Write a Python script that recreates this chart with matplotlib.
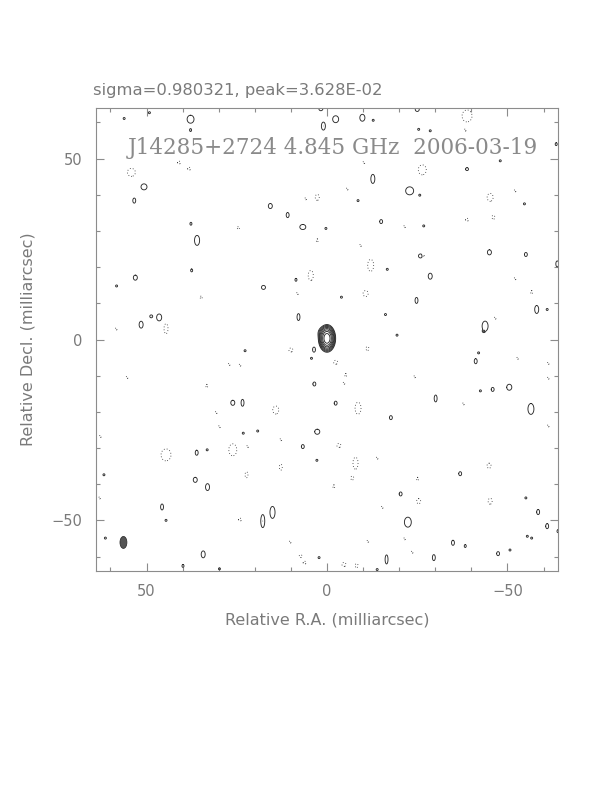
'''
Difmap-style clean map of J14285+2724 at 4.845 GHz (2006-03-19):
contour levels of the source plus the noise blobs, beam in the corner.
'''
import numpy as np
import matplotlib
matplotlib.use('Agg')
import matplotlib.pyplot as plt
from matplotlib.ticker import MultipleLocator
from matplotlib.patches import Ellipse

# --- input ---
title_txt = 'sigma=0.980321, peak=3.628E-02'
map_label = 'J14285+2724 4.845 GHz  2006-03-19'
xlabel_txt = 'Relative R.A. (milliarcsec)'
ylabel_txt = 'Relative Decl. (milliarcsec)'

field_half = 64.0  # mas

# central source components: ra, dec, sigma_ra, sigma_dec, amplitude (in lowest levels)
core_ra = [0.0, 1.0]
core_dec = [0.3, 1.8]
core_sx = [0.72, 0.75]
core_sy = [1.15, 0.8]
core_amp = [250.0, 5.0]

# contour levels (multiples of the lowest contour)
pos_levels = [1, 2, 4, 8, 16, 32, 64, 128]
neg_levels = [-1]

# positive noise islands: ra, dec (mas), full width / height of lowest contour (mas)
pos_ra = [56.2, 49.2, 37.8, 37.8, 1.0, -2.4, 1.7, -9.8, -12.8, -25.0, -25.4, -28.6, -63.5,
          -38.8, -48.0, 50.7, 53.4, 15.7, 10.9, 6.7, 0.3, 37.7, 36.0, 37.5, 53.1, 58.3, 17.6,
          8.6, 46.5, 48.7, 51.5, 7.9, -12.7, -22.9, -25.7, -8.6, -15.0, -26.8, -54.7, -25.9,
          -45.0, -55.1, -63.8, -16.7, -28.6, -4.0, -24.8, -58.1, -61.0, -16.2, -43.8, -19.4,
          3.6, 4.3, 22.7, 3.5, 26.1, 23.4, -2.4, 23.2, 19.2, 2.7, 6.7, 36.1, 33.2, 2.8, 61.8,
          36.5, 33.1, 45.7, 15.1, 17.8, 44.6, 61.4, 34.3, 2.2, 39.9, 29.8, -43.4, -42.0, -41.2,
          -42.5, -45.9, -50.5, -30.1, -56.5, -17.7, -36.9, -20.4, -55.1, -58.5, -22.4, -61.0,
          -64.0, -34.9, -38.3, -55.5, -56.7, -47.4, -50.7, -16.5, -29.6, -13.9]
pos_dec = [61.1, 62.7, 60.9, 57.9, 59.0, 60.9, 63.8, 61.3, 60.6, 63.6, 58.1, 57.7, 54.0,
           47.1, 49.4, 42.2, 38.4, 36.9, 34.4, 31.1, 30.7, 32.0, 27.4, 19.1, 17.1, 14.8, 14.4,
           16.5, 6.1, 6.4, 4.1, 6.2, 44.4, 41.1, 39.9, 38.4, 32.6, 31.4, 37.5, 23.1,
           24.1, 23.5, 20.9, 19.4, 17.5, 11.7, 10.8, 8.3, 8.3, 6.9, 3.7, 1.2,
           -2.8, -5.2, -3.1, -12.3, -17.5, -17.5, -17.6, -25.9, -25.3, -25.5, -29.6, -31.3,
           -30.5, -33.4, -37.4, -38.8, -40.8, -46.3, -47.8, -50.2, -50.0, -54.9, -59.4, -60.3,
           -62.6, -63.4, 2.3, -3.7, -6.0, -14.2, -13.8, -13.2, -16.3, -19.2, -21.6, -37.1,
           -42.7, -43.8, -47.7, -50.5, -51.6, -53.0, -56.2, -57.1, -54.4, -54.9, -59.2, -58.2,
           -60.8, -60.3, -63.6]
pos_w = [.55, .55, 1.9, .55, 1.1, 1.65, 1.1, 1.4, .55, 1.1, .55, .55, .55,
         .8, .55, 1.65, .8, 1.1, .8, 1.65, .55, .55, 1.4, .55, 1.1, .55, 1.1,
         .55, 1.4, .8, 1.1, .8, 1.1, 2.2, .55, .55, .8, .55, .55, 1.1,
         1.1, .8, .8, .55, 1.1, .55, .8, 1.1, .55, .55, 1.65, .55,
         .8, .55, .55, .8, 1.1, .8, .8, .55, .55, 1.4, .8, .8, .55, .55, .55,
         1.1, 1.1, .8, 1.4, 1.1, .55, .55, 1.1, .55, .55, .55, .55, .55, .8,
         .55, .8, 1.4, .8, 1.65, .8, .8, .8, .55, .8, 1.9, .8,
         .55, .8, .55, .55, .55, .8, .55, .8, .8, .55]
pos_h = [.55, .55, 2.2, .8, 2.2, 1.9, 1.1, 1.9, .55, 1.1, .55, .55, .8,
         .8, .55, 1.65, 1.4, 1.4, 1.4, 1.4, .55, .8, 2.75, .8, 1.4, .55, 1.1,
         .8, 1.9, .8, 1.9, 1.9, 2.5, 2.2, .55, .55, 1.1, .55, .55, 1.1,
         1.4, 1.1, 1.65, .55, 1.65, .55, 1.65, 2.2, .55, .55, 2.75, .55,
         1.4, .55, .55, 1.1, 1.4, 1.9, 1.1, .55, .55, 1.4, 1.1, 1.4, .55, .55, .55,
         1.4, 1.9, 1.65, 3.3, 3.6, .55, .55, 1.9, .55, .8, .55, .55, .55, 1.4,
         .55, 1.1, 1.65, 1.9, 3.0, 1.1, 1.1, 1.1, .55, 1.4, 2.75, 1.4,
         .8, 1.4, .8, .55, .55, 1.1, .55, 2.5, 1.65, .55]

# negative noise islands (dotted contours)
neg_ra = [54.2, 41.0, 38.2, 2.7, 5.9, 2.7, 24.6, 4.5, 8.2, 34.9, 44.6, 58.4, -38.8, -38.3,
          -10.2, -26.4, -5.6, -45.2, -52.1, -38.8, -46.1, -21.5, -9.3, -26.7, -12.1, -52.1,
          -10.7, -56.7, -46.6, 10.0, -2.4, 27.1, 24.1, 55.4, 33.3, 14.2, 30.7, 29.8, 12.8,
          -3.3, 44.6, 26.1, 22.0, 12.8, 22.3, -1.9, 24.1, 10.2, 7.3, 6.2, -11.2, -52.8,
          -61.3, -61.3, -5.2, -4.7, -24.3, -8.6, -37.8, -61.3, -7.9, -13.9, -7.0, -44.9,
          -25.1, -25.4, -45.2, -15.3, -21.5, -11.3, -23.6, -4.7, -8.2, 62.8, 63.0]
neg_dec = [46.2, 48.9, 47.2, 39.3, 38.9, 27.4, 30.9, 17.7, 12.7, 11.7, 3.0, 2.9, 61.8, 57.9,
           48.9, 46.9, 41.6, 39.3, 41.1, 33.1, 33.8, 31.2, 26.0, 23.2, 20.5, 16.8,
           12.7, 13.1, 5.9, -2.9, -6.3, -6.9, -7.1, -10.5, -12.8, -19.5, -20.2, -24.1, -27.7,
           -29.3, -31.9, -30.5, -29.6, -35.3, -37.4, -40.6, -49.8, -56.0, -59.9, -61.7, -2.5,
           -5.2, -6.6, -10.7, -9.8, -12.1, -10.3, -19.0, -17.8, -23.9, -34.2, -32.8, -38.3,
           -34.9, -38.5, -44.7, -44.7, -46.4, -55.1, -55.8, -58.8, -62.2, -62.5, -26.8, -43.8]
neg_w = [2.2, .8, .8, 1.1, .55, .55, .8, 1.4, .55, .8, 1.1, .55, 2.75, .55,
         .55, 2.2, .55, 1.65, .55, .8, .8, .55, .55, .55, 1.65, .55,
         1.4, .55, .55, 1.1, 1.1, .55, .55, .55, .55, 1.65, .55, .55, .55,
         1.1, 2.75, 2.2, .55, .8, .8, .55, .8, .55, .8, .8, .8, .55,
         .55, .55, .55, .55, .55, 1.65, .55, .55, 1.4, .55, .8, 1.1,
         .55, 1.1, 1.1, .55, .55, .55, .55, 1.1, .8, .55, .55]
neg_h = [2.2, .8, .8, 1.65, .55, .8, .55, 2.75, .55, .55, 2.75, .55, 3.3, .55,
         .55, 2.75, .55, 2.2, .55, .8, 1.1, .55, .55, .55, 3.3, .55,
         1.65, .8, .55, 1.1, 1.1, .55, .55, .55, .8, 2.2, .55, .55, .55,
         1.1, 3.3, 3.3, .55, 1.65, 1.65, .8, .8, .55, .8, .8, 1.1, .55,
         .55, .55, .8, .55, .55, 3.3, .55, .55, 3.3, .55, 1.1, 1.4,
         .8, 1.4, 1.65, .55, .55, .55, .55, 1.1, 1.1, .55, .55]

# restoring beam (FWHM, mas)
beam_ra = 56.4
beam_dec = -56.1
beam_minor = 1.9
beam_major = 3.3

text_gray = '#7a7a7a'
line_gray = '#8c8c8c'
contour_col = '#2a2a2a'


def add_blob(img, xg, yg, ra, dec, sx, sy, amp):
    '''add one elliptical gaussian island to the map (local window only)'''
    step = xg[1] - xg[0]
    i0 = max(int((ra - 5 * sx - xg[0]) / step), 0)
    i1 = min(int((ra + 5 * sx - xg[0]) / step) + 2, len(xg))
    j0 = max(int((dec - 5 * sy - yg[0]) / step), 0)
    j1 = min(int((dec + 5 * sy - yg[0]) / step) + 2, len(yg))
    xx, yy = np.meshgrid(xg[i0:i1], yg[j0:j1])
    img[j0:j1, i0:i1] += amp * np.exp(-0.5 * (((xx - ra) / sx) ** 2 + ((yy - dec) / sy) ** 2))


def make_map():
    xg = np.arange(-field_half - 1, field_half + 1.001, 0.1)
    yg = np.arange(-field_half - 1, field_half + 1.001, 0.1)
    img = np.zeros((len(yg), len(xg)))

    # lowest contour crosses where a gaussian of amplitude 2 drops to 1
    k = 2 * np.sqrt(2 * np.log(2))
    for ra, dec, w, h in zip(pos_ra, pos_dec, pos_w, pos_h):
        add_blob(img, xg, yg, ra, dec, w / k, h / k, 2.0)
    for ra, dec, w, h in zip(neg_ra, neg_dec, neg_w, neg_h):
        add_blob(img, xg, yg, ra, dec, w / k, h / k, -2.0)
    for ra, dec, sx, sy, amp in zip(core_ra, core_dec, core_sx, core_sy, core_amp):
        add_blob(img, xg, yg, ra, dec, sx, sy, amp)
    return xg, yg, img


if __name__ == '__main__':
    xg, yg, img = make_map()

    fig = plt.figure(figsize=(6.12, 7.92), dpi=100)
    ax = fig.add_axes([96 / 612, 1 - 571 / 792, 462 / 612, 463 / 792])

    ax.contour(xg, yg, img, levels=pos_levels, colors=contour_col, linewidths=0.65)
    cn = ax.contour(xg, yg, img, levels=neg_levels, colors=contour_col, linewidths=0.6)
    cn.set_linestyle((0, (1, 2.5)))

    # beam
    ax.add_patch(Ellipse((beam_ra, beam_dec), beam_minor, beam_major,
                         facecolor='#555555', edgecolor='#333333', lw=0.6))

    ax.set_xlim(field_half, -field_half)
    ax.set_ylim(-field_half, field_half)

    # axes style
    for sp in ax.spines.values():
        sp.set_color(line_gray)
        sp.set_linewidth(0.8)
    ax.xaxis.set_major_locator(MultipleLocator(50))
    ax.xaxis.set_minor_locator(MultipleLocator(10))
    ax.yaxis.set_major_locator(MultipleLocator(50))
    ax.yaxis.set_minor_locator(MultipleLocator(10))
    ax.tick_params(which='both', direction='in', top=True, right=True,
                   color=line_gray, labelcolor=text_gray, labelsize=10.5, width=0.8)
    ax.tick_params(which='major', length=6)
    ax.tick_params(which='minor', length=3)
    ax.tick_params(axis='x', pad=9)
    ax.tick_params(axis='y', pad=10)

    ax.set_xlabel(xlabel_txt, color=text_gray, fontsize=11.5, labelpad=10)
    ax.set_ylabel(ylabel_txt, color=text_gray, fontsize=11.5, labelpad=11)

    fig.text(93 / 612, 1 - 95 / 792, title_txt, color=text_gray, fontsize=11.8,
             ha='left', va='baseline')
    ax.text(-1.6, 51.3, map_label, color='#8a8a8a', fontsize=15.5,
            family='DejaVu Serif', ha='center', va='baseline')

    fig.savefig('out.png', dpi=100)
